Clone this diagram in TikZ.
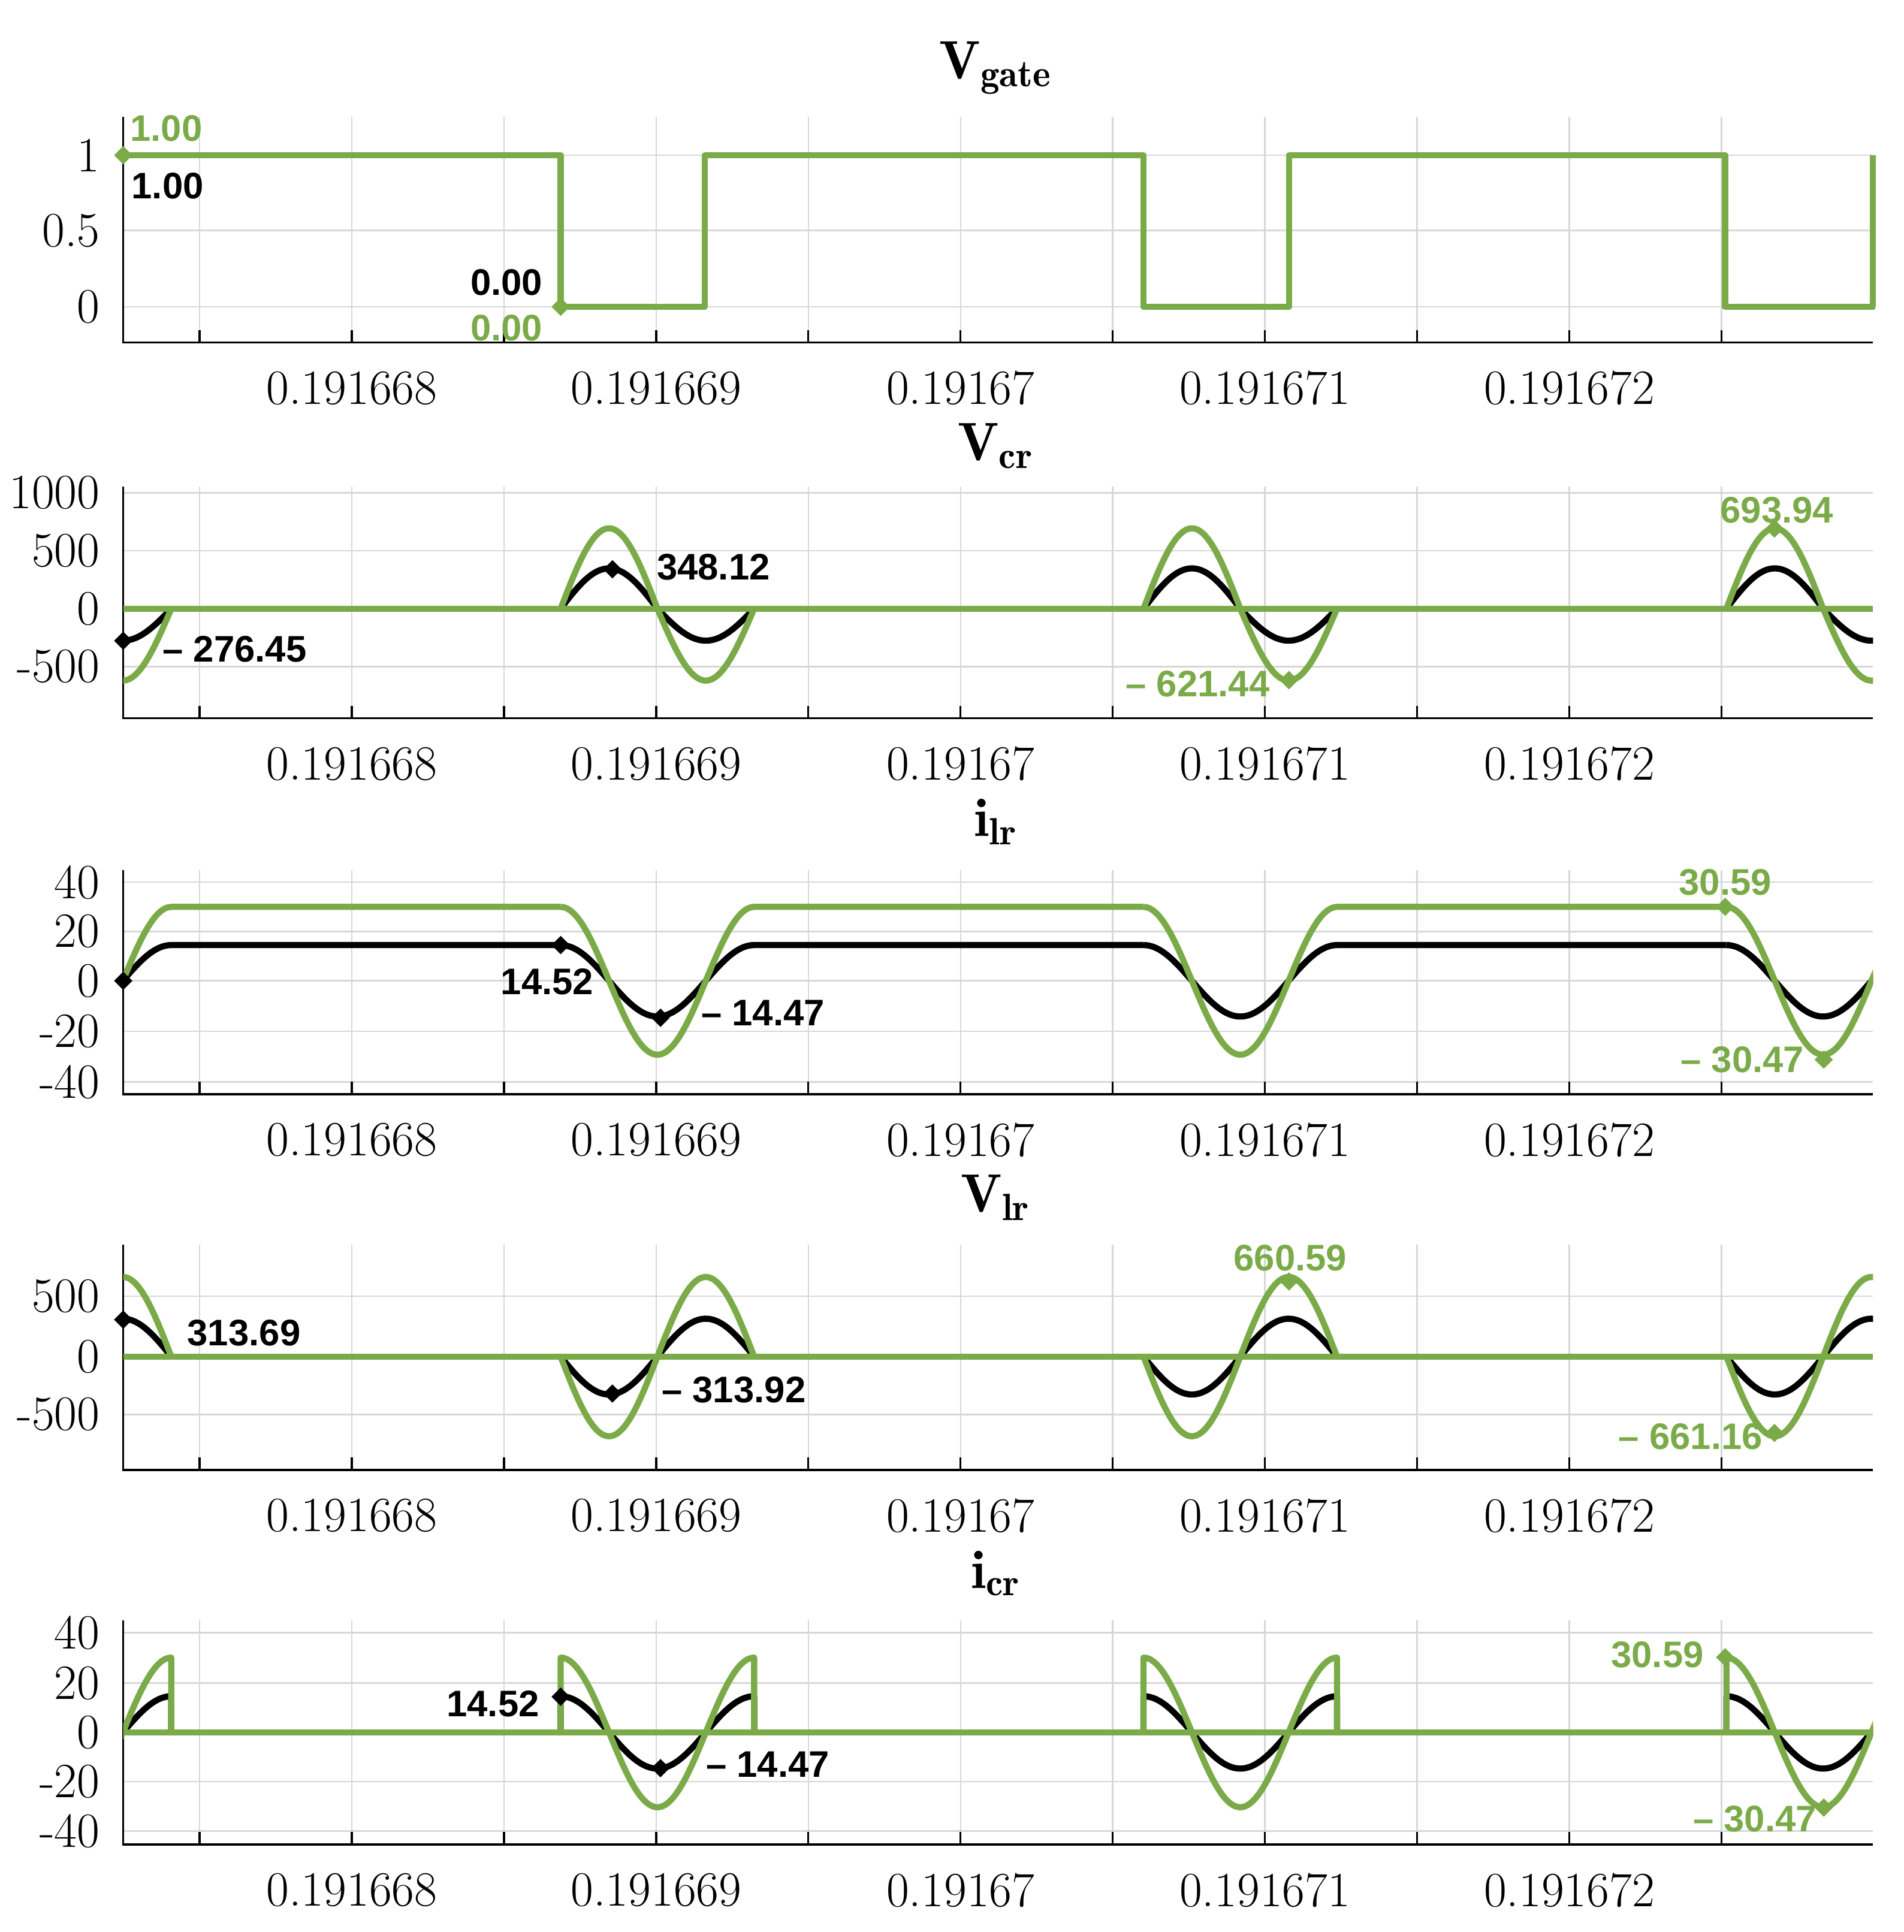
\documentclass[tikz,border=0pt]{standalone}
\usepackage{fontspec}
\setsansfont{Liberation Sans}
\usetikzlibrary{shapes.geometric}
\definecolor{grn}{RGB}{122,171,72}
\definecolor{grd}{RGB}{215,215,215}
\tikzset{
 gcurve/.style={draw=grn,line width=2.5pt,line join=round},
 kcurve/.style={draw=black,line width=2.5pt,line join=round},
 gridl/.style={draw=grd,line width=0.6pt},
 axl/.style={draw=black,line width=0.8pt},
 dm/.style={diamond,fill,inner sep=1.9pt},
 ann/.style={font=\fontsize{15}{15}\sffamily\bfseries},
 tkl/.style={font=\fontsize{20}{20}\selectfont},
 ttl/.style={font=\fontsize{22}{22}\selectfont}
}
\newcommand\mypanel[2]{%
 \foreach \k in {0,...,10}{\draw[gridl] ({162+123.5*\k},#1) -- ({162+123.5*\k},#2);
   \draw[axl] ({162+123.5*\k},#2) -- ({162+123.5*\k},#2-10);}
 \draw[axl] (100,#1) -- (100,#2) -- (1520,#2);
 \foreach \v/\t in {285.5/0.191668,532.5/0.191669,779.5/0.19167,1026.5/0.191671,1273.5/0.191672}
   \node[tkl] at (\v,#2+37) {\t};
}
\begin{document}
\begin{tikzpicture}[x=0.5pt,y=-0.5pt]
\useasboundingbox[fill=white] (0,0) rectangle (1545,1568);
% ---------- panel 1
\node[ttl] (t1) at (808,55) {$\mathbf{V_{gate}}$};
\foreach \yy/\t in {126/1,187/0.5,249/0}{\draw[gridl] (100,\yy) -- (1520,\yy); \node[tkl,anchor=east] at (88,\yy) {\t};}
\mypanel{95}{278}
\draw[gcurve] (100,126) -- (455,126) -- (455,249) -- (572,249) -- (572,126) -- (928,126) -- (928,249) -- (1046,249) -- (1046,126) -- (1400,126) -- (1400,249) -- (1520,249) -- (1520,126);
\node[dm,grn] (m1) at (100,126) {};
\node[dm,grn] (m2) at (455,249) {};
\node[ann,grn] (a1) at (135,104) {1.00};
\node[ann] (a2) at (136,151) {1.00};
\node[ann] (a3) at (411,229) {0.00};
\node[ann,grn] (a4) at (411,266) {0.00};
% ---------- panel 2
\node[ttl] (t2) at (808,362) {$\mathbf{V_{cr}}$};
\foreach \yy/\t in {400/1000,447/500,494/0,541/-500}{\draw[gridl] (100,\yy) -- (1520,\yy); \node[tkl,anchor=east] at (88,\yy) {\t};}
\mypanel{395}{583}
\begin{scope}
\clip (100,300) rectangle (1520,600);
\draw[kcurve] (100,494) -- (1520,494);
\foreach \s in {-18,455,928,1401}{
 \pgfmathsetmacro\sa{\s+78.5}\pgfmathsetmacro\sb{\s+157}
 \draw[kcurve] plot[domain=\s:\sa,samples=40] (\x,{494-0.094*348*sin((\x-\s)/157*360)});
 \draw[kcurve] plot[domain=\sa:\sb,samples=40] (\x,{494-0.094*276*sin((\x-\s)/157*360)});
}
\draw[gcurve] (100,494) -- (1520,494);
\foreach \s in {-18,455,928,1401}{
 \pgfmathsetmacro\sa{\s+78.5}\pgfmathsetmacro\sb{\s+157}
 \draw[gcurve] plot[domain=\s:\sa,samples=40] (\x,{494-0.094*694*sin((\x-\s)/157*360)});
 \draw[gcurve] plot[domain=\sa:\sb,samples=40] (\x,{494-0.094*621*sin((\x-\s)/157*360)});
}
\end{scope}
\node[dm] (m3) at (100,520) {};
\node[dm] (m4) at (497,462) {};
\node[dm,grn] (m5) at (1046,552) {};
\node[dm,grn] (m6) at (1440,429) {};
\node[ann,anchor=west] (a5) at (125,527) {– 276.45};
\node[ann,anchor=west] (a6) at (526,460) {348.12};
\node[ann,grn] (a7) at (972,555) {– 621.44};
\node[ann,grn] (a8) at (1442,414) {693.94};
% ---------- panel 3
\node[ttl] (t3) at (808,667) {$\mathbf{i_{lr}}$};
\foreach \yy/\t in {716/40,756/20,796/0,837/-20,878/-40}{\draw[gridl] (100,\yy) -- (1520,\yy); \node[tkl,anchor=east] at (88,\yy) {\t};}
\mypanel{706}{888}
\begin{scope}
\clip (100,650) rectangle (1520,900);
\foreach \a/\sty in {14.5/kcurve,30/gcurve}{
 \foreach \s in {-18,455,928,1401}{
  \pgfmathsetmacro\sb{\s+157}\pgfmathsetmacro\sc{\s+473}
  \draw[\sty] plot[domain=\s:\sb,samples=60] (\x,{796-2.0*\a*cos((\x-\s)/157*360)}) -- (\sc,{796-2.0*\a});
 }}
\end{scope}
\node[dm] (m7) at (100,796) {};
\node[dm] (m8) at (455,767) {};
\node[dm] (m9) at (536,826) {};
\node[dm,grn] (m10) at (1400,736) {};
\node[dm,grn] (m11) at (1480,860) {};
\node[ann] (a9) at (444,797) {14.52};
\node[ann,anchor=west] (a10) at (562,822) {– 14.47};
\node[ann,grn] (a11) at (1400,716) {30.59};
\node[ann,grn] (a12) at (1414,860) {– 30.47};
% ---------- panel 4
\node[ttl] (t4) at (808,972) {$\mathbf{V_{lr}}$};
\foreach \yy/\t in {1052/500,1101/0,1148/-500}{\draw[gridl] (100,\yy) -- (1520,\yy); \node[tkl,anchor=east] at (88,\yy) {\t};}
\mypanel{1010}{1193}
\begin{scope}
\clip (100,950) rectangle (1520,1200);
\foreach \a/\sty in {314/kcurve,660/gcurve}{
 \draw[\sty] (100,1101) -- (1520,1101);
 \foreach \s in {-18,455,928,1401}{
  \pgfmathsetmacro\sb{\s+157}
  \draw[\sty] plot[domain=\s:\sb,samples=60] (\x,{1101+0.098*\a*sin((\x-\s)/157*360)});
 }}
\end{scope}
\node[dm] (m12) at (100,1071) {};
\node[dm] (m13) at (497,1131) {};
\node[dm,grn] (m14) at (1046,1040) {};
\node[dm,grn] (m15) at (1440,1163) {};
\node[ann,anchor=west] (a13) at (145,1082) {313.69};
\node[ann,anchor=west] (a14) at (530,1128) {– 313.92};
\node[ann,grn] (a15) at (1047,1021) {660.59};
\node[ann,grn] (a16) at (1372,1166) {– 661.16};
% ---------- panel 5
\node[ttl] (t5) at (808,1277) {$\mathbf{i_{cr}}$};
\foreach \yy/\t in {1325/40,1366/20,1406/0,1446/-20,1486/-40}{\draw[gridl] (100,\yy) -- (1520,\yy); \node[tkl,anchor=east] at (88,\yy) {\t};}
\mypanel{1315}{1497}
\begin{scope}
\clip (100,1250) rectangle (1520,1510);
\foreach \a/\sty in {14.5/kcurve,30/gcurve}{
 \draw[\sty] (100,1406) -- (1520,1406);
 \foreach \s in {-18,455,928,1401}{
  \pgfmathsetmacro\sb{\s+157}
  \draw[\sty] (\s,1406) -- plot[domain=\s:\sb,samples=60] (\x,{1406-2.025*\a*cos((\x-\s)/157*360)}) -- (\sb,1406);
 }}
\end{scope}
\node[dm] (m16) at (455,1377) {};
\node[dm] (m17) at (536,1435) {};
\node[dm,grn] (m18) at (1400,1345) {};
\node[dm,grn] (m19) at (1480,1467) {};
\node[ann] (a17) at (400,1383) {14.52};
\node[ann,anchor=west] (a18) at (566,1432) {– 14.47};
\node[ann,grn] (a19) at (1345,1343) {30.59};
\node[ann,grn] (a20) at (1424,1476) {– 30.47};
\end{tikzpicture}
\end{document}
